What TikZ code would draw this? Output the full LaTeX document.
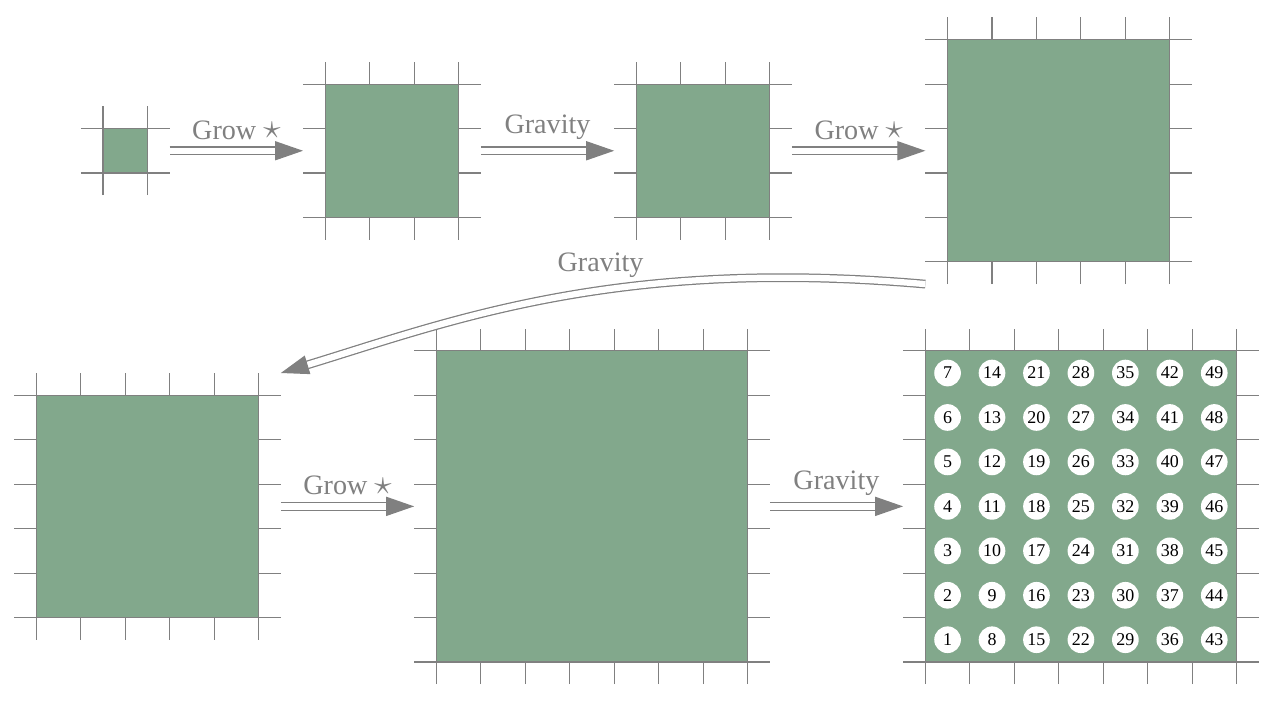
\documentclass[tikz,border=0pt]{standalone}
\usepackage{fontspec}
\usepackage{graphicx}
\setmainfont{Liberation Serif}
\usetikzlibrary{arrows.meta}
\definecolor{sqgreen}{HTML}{82A88C}
\definecolor{lgray}{HTML}{808080}
\newcommand\bigstarsym{\raisebox{0.3pt}{\scalebox{1.3}{$\star$}}}
\begin{document}
\begin{tikzpicture}[
  gridline/.style={lgray, line width=0.7pt},
  sqbox/.style={draw=lgray, fill=sqgreen, line width=0.7pt, inner sep=0pt, outer sep=0pt},
  gridbox/.style={inner sep=0pt, outer sep=0pt},
  dbl/.style={lgray, line width=0.8pt, double=white, double distance=4pt, -{Triangle[length=0.63cm, width=0.43cm]}},
  lbl/.style={text=lgray, font=\fontsize{18}{20}\selectfont},
  num/.style={circle, fill=white, minimum size=0.6cm, inner sep=0pt, font=\fontsize{11.5}{12}\selectfont}
]
\useasboundingbox (0,0) rectangle (28.796,15.771);
\foreach \nm/\cx/\cy/\n in {1/2.817/12.379/1, 2/8.817/12.379/3, 3/15.817/12.379/3, 4/23.817/12.379/5,
                            5/3.317/4.379/5, 6/13.317/4.379/7, 7/24.317/4.379/7} {
  \pgfmathsetmacro\h{\n/2}
  \pgfmathsetmacro\gs{\n+1}
  \foreach \i in {0,...,\n} {
    \draw[gridline] (\cx-\h+\i, \cy-\h-0.5) -- (\cx-\h+\i, \cy+\h+0.5);
    \draw[gridline] (\cx-\h-0.5, \cy-\h+\i) -- (\cx+\h+0.5, \cy-\h+\i);
  }
  \node[sqbox, minimum size=\n cm] (s\nm) at (\cx,\cy) {};
  \node[gridbox, minimum size=\gs cm] (g\nm) at (\cx,\cy) {};
}
\foreach \i in {0,...,6} {
  \foreach \j in {0,...,6} {
    \pgfmathtruncatemacro\k{7*\i+\j+1}
    \node[num] (c\k) at ([shift={(\i+0.5,\j+0.5)}]s7.south west) {\k};
  }
}
\draw[dbl] (g1.east) -- node[lbl, above=3.5pt] {Grow \bigstarsym} (g2.west);
\draw[dbl] (g2.east) -- node[lbl, above=3.5pt] {Gravity} (g3.west);
\draw[dbl] (g3.east) -- node[lbl, above=3.5pt] {Grow \bigstarsym} (g4.west);
\draw[dbl] (g4.south west) .. controls +(175:7) and +(17:4) .. node[lbl, pos=0.42, above=4.5pt] {Gravity} (g5.north east);
\draw[dbl] (g5.east) -- node[lbl, above=3.5pt] {Grow \bigstarsym} (g6.west);
\draw[dbl] (g6.east) -- node[lbl, above=3.5pt] {Gravity} (g7.west);
\end{tikzpicture}
\end{document}
